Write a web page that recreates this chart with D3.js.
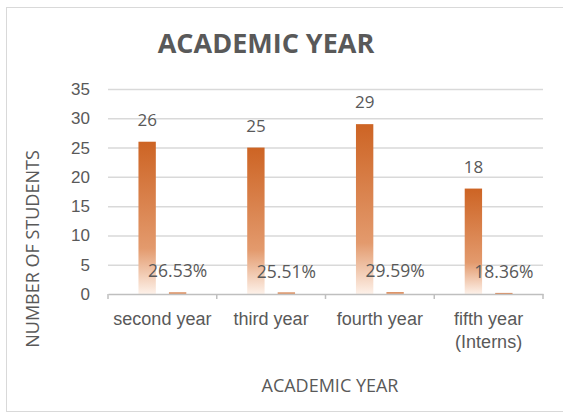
<!DOCTYPE html>
<meta charset="utf-8">
<style>
    body {
        margin: 0;
        background-color: #fff;
    }

    svg {
        font-family: "Open Sans", sans-serif;
    }

    text {
        fill: #595959;
    }

    .grid line {
        stroke: #d9d9d9;
        stroke-width: 1.5;
    }

    .grid .domain {
        display: none;
    }
</style>

<body>
    <script src="https://cdn.jsdelivr.net/npm/d3@7"></script>
    <script>
        var categories = ["second year", "third year", "fourth year", "fifth year (Interns)"];
        var tickLabels = [["second year"], ["third year"], ["fourth year"], ["fifth year", "(Interns)"]];
        var counts = [26, 25, 29, 18];
        var percents = [26.53, 25.51, 29.59, 18.36];
        var yTicks = [0, 5, 10, 15, 20, 25, 30, 35];

        var width = 563,
            height = 414;

        var svg = d3.select("body").append("svg")
            .attr("width", width)
            .attr("height", height);

        // chart frame
        svg.append("rect")
            .attr("x", 6.5)
            .attr("y", 7.5)
            .attr("width", 570)
            .attr("height", 404)
            .attr("fill", "#fff")
            .attr("stroke", "#d9d9d9");

        var defs = svg.append("defs");
        var grad = defs.append("linearGradient")
            .attr("id", "barGrad")
            .attr("x1", 0).attr("y1", 0)
            .attr("x2", 0).attr("y2", 1);
        grad.append("stop").attr("offset", "0%").attr("stop-color", "#cd6424");
        grad.append("stop").attr("offset", "70%").attr("stop-color", "#e39a6d");
        grad.append("stop").attr("offset", "100%").attr("stop-color", "#fdf1e9");

        var x = d3.scaleBand()
            .domain(categories)
            .range([108, 543])
            .padding(0);

        var xInner = d3.scaleBand()
            .domain(["count", "pct"])
            .range([0, x.bandwidth()])
            .paddingInner(0.43)
            .paddingOuter(1);

        var y = d3.scaleLinear()
            .domain([0, 35])
            .range([294, 89]);

        // gridlines
        svg.append("g")
            .attr("class", "grid")
            .attr("transform", "translate(108,0)")
            .call(d3.axisLeft(y).tickValues(yTicks.slice(1)).tickSize(-(543 - 108)).tickFormat(""));

        // y axis labels
        var yAxis = svg.append("g")
            .attr("transform", "translate(108,0)")
            .call(d3.axisLeft(y).tickValues(yTicks).tickSize(0).tickPadding(18));
        yAxis.select(".domain").remove();
        yAxis.selectAll("text")
            .attr("fill", "#595959")
            .style("font-size", "17px");

        // bars
        var data = categories.map(function(c, i) {
            return {cat: c, count: counts[i], pct: percents[i]};
        });

        var groups = svg.append("g").selectAll("g")
            .data(data)
            .enter().append("g")
            .attr("transform", function(d) { return "translate(" + x(d.cat) + ",0)"; });

        groups.append("rect")
            .attr("x", xInner("count"))
            .attr("width", xInner.bandwidth())
            .attr("y", function(d) { return y(d.count); })
            .attr("height", function(d) { return y(0) - y(d.count); })
            .attr("fill", "url(#barGrad)");

        groups.append("rect")
            .attr("x", xInner("pct"))
            .attr("width", xInner.bandwidth())
            .attr("y", function(d) { return y(d.pct / 100); })
            .attr("height", function(d) { return y(0) - y(d.pct / 100); })
            .attr("fill", "url(#barGrad)");

        // value labels
        groups.append("text")
            .attr("x", xInner("count") + xInner.bandwidth() / 2)
            .attr("y", function(d) { return y(d.count) - 16; })
            .attr("text-anchor", "middle")
            .style("font-size", "17px")
            .text(function(d) { return d.count; });

        groups.append("text")
            .attr("x", xInner("pct") + xInner.bandwidth() / 2)
            .attr("y", function(d) { return y(d.pct / 100) - 15; })
            .attr("text-anchor", "middle")
            .style("font-size", "17.5px")
            .text(function(d) { return d3.format(".2f")(d.pct) + "%"; });

        // x axis
        var xAxis = svg.append("g")
            .attr("transform", "translate(0,294)")
            .call(d3.axisBottom(x).tickSize(0).tickPadding(0));
        xAxis.select(".domain")
            .attr("stroke", "#bfbfbf")
            .attr("stroke-width", 1.5);
        xAxis.selectAll("text").remove();

        var edges = x.domain().map(function(c) { return x(c); }).concat([x.range()[1]]);
        xAxis.selectAll(".edge")
            .data(edges)
            .enter().append("line")
            .attr("class", "edge")
            .attr("x1", function(d) { return d; })
            .attr("x2", function(d) { return d; })
            .attr("y1", 0)
            .attr("y2", 5)
            .attr("stroke", "#bfbfbf")
            .attr("stroke-width", 1.5);

        var xLabels = xAxis.selectAll(".xlabel")
            .data(data)
            .enter().append("text")
            .attr("class", "xlabel")
            .attr("text-anchor", "middle")
            .attr("x", function(d) { return x(d.cat) + x.bandwidth() / 2; })
            .attr("y", 31)
            .style("font-size", "18px");
        xLabels.each(function(d, i) {
            var t = d3.select(this);
            tickLabels[i].forEach(function(line, j) {
                t.append("tspan")
                    .attr("x", x(d.cat) + x.bandwidth() / 2)
                    .attr("dy", j === 0 ? 0 : 23)
                    .text(line);
            });
        });

        // titles
        svg.append("text")
            .attr("x", 266)
            .attr("y", 53)
            .attr("text-anchor", "middle")
            .style("font-size", "27px")
            .style("font-weight", "bold")
            .text("ACADEMIC YEAR");

        svg.append("text")
            .attr("x", 330)
            .attr("y", 392)
            .attr("text-anchor", "middle")
            .style("font-size", "18px")
            .text("ACADEMIC YEAR");

        svg.append("text")
            .attr("transform", "translate(39,249) rotate(-90)")
            .attr("text-anchor", "middle")
            .style("font-size", "18px")
            .text("NUMBER OF STUDENTS");
    </script>
</body>
